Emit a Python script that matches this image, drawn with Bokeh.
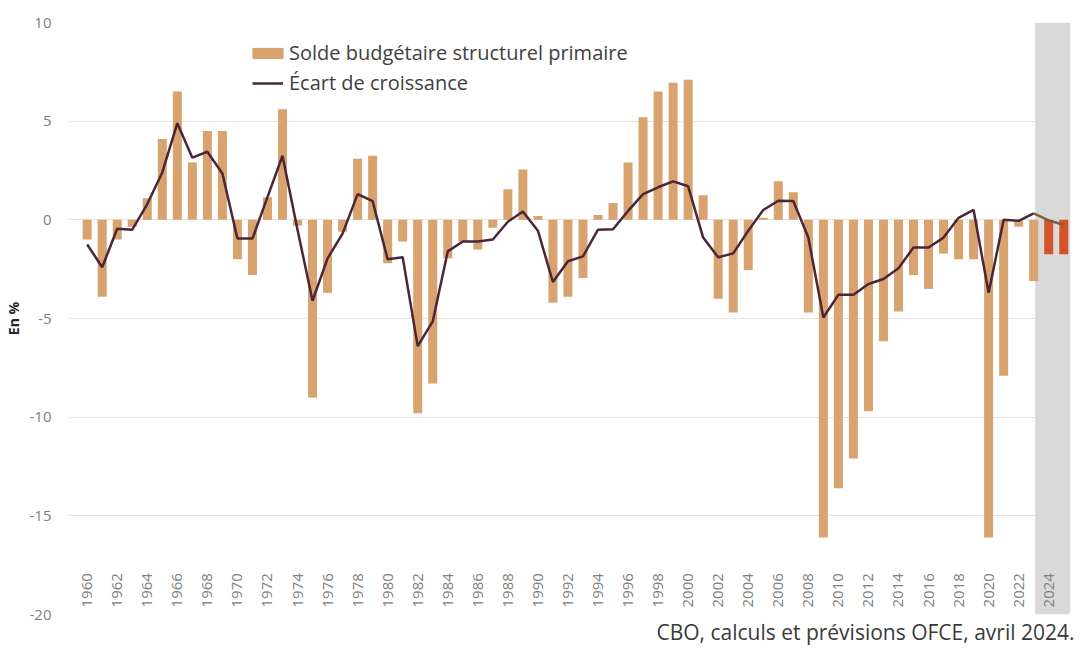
from math import pi
from bokeh.plotting import figure
from bokeh.models import (ColumnDataSource, Range1d, FixedTicker, LinearAxis, Legend,
                          LegendItem, BoxAnnotation, Title)
from bokeh.embed import file_html
from bokeh.resources import INLINE

years = list(range(1960, 2026))
solde = [-1.0, -3.9, -1.0, -0.35, 1.1, 4.1, 6.5, 2.9, 4.5, 4.5,
         -2.0, -2.8, 1.15, 5.6, -0.3, -9.0, -3.7, -0.6, 3.1, 3.25,
         -2.2, -1.1, -9.8, -8.3, -1.95, -1.1, -1.5, -0.4, 1.55, 2.55,
         0.2, -4.2, -3.9, -2.95, 0.25, 0.85, 2.9, 5.2, 6.5, 6.95,
         7.1, 1.25, -4.0, -4.7, -2.55, 0.1, 1.95, 1.4, -4.7, -16.1,
         -13.6, -12.1, -9.7, -6.15, -4.65, -2.8, -3.5, -1.7, -2.0, -2.0,
         -16.1, -7.9, -0.35, -3.1, -1.75, -1.75]
ecart = [-1.25, -2.4, -0.45, -0.5, 0.8, 2.4, 4.9, 3.15, 3.45, 2.35,
         -0.95, -0.95, 1.15, 3.25, -0.5, -4.1, -1.95, -0.7, 1.3, 0.95,
         -2.0, -1.9, -6.4, -5.15, -1.6, -1.1, -1.1, -1.0, -0.1, 0.42,
         -0.55, -3.15, -2.1, -1.85, -0.5, -0.48, 0.45, 1.3, 1.65, 1.95,
         1.7, -0.9, -1.9, -1.7, -0.55, 0.5, 0.97, 0.95, -0.9, -4.95,
         -3.8, -3.8, -3.25, -3.0, -2.45, -1.4, -1.4, -0.9, 0.1, 0.5,
         -3.7, 0.0, -0.05, 0.33, -0.03, -0.25]
forecast_years = [2024, 2025]
y_ticks = [-20, -15, -10, -5, 0, 5, 10]
y_tick_labels = ["-20", "-15", "-10", "-5", "0", "5", "10"]
x_ticks = list(range(1960, 2025, 2))

BAR = "#D8A36E"
RED = "#D6532A"
LINE = "#4A2638"
FLINE = "#7E5C3E"
FONT = "Open Sans"

hist = [i for i, y in enumerate(years) if y not in forecast_years]
fc = [i for i, y in enumerate(years) if y in forecast_years]
src_hist = ColumnDataSource(dict(x=[years[i] for i in hist], top=[solde[i] for i in hist]))
src_fc = ColumnDataSource(dict(x=[years[i] for i in fc], top=[solde[i] for i in fc]))
n_obs = len(years) - len(forecast_years)
src_line = ColumnDataSource(dict(x=years[:n_obs], y=ecart[:n_obs]))
src_fline = ColumnDataSource(dict(x=years[n_obs - 1:], y=ecart[n_obs - 1:]))

p = figure(width=1077, height=647, output_backend="svg", toolbar_location=None,
           x_range=Range1d(1958.69, 2025.45), y_range=Range1d(-20, 10),
           x_axis_location=None, min_border_left=67, min_border_right=7,
           min_border_top=22, min_border_bottom=33)
p.outline_line_color = None
p.background_fill_color = "white"
p.border_fill_color = "white"

p.add_layout(BoxAnnotation(left=2023.1, fill_color="#D9D9D9", fill_alpha=1.0,
                           line_color=None, level="underlay"))

p.xgrid.visible = False
p.ygrid.ticker = FixedTicker(ticks=y_ticks)
p.ygrid.grid_line_color = "#E3E3E3"
p.ygrid.grid_line_width = 1

bars = p.vbar(x="x", top="top", bottom=0, width=0.6, source=src_hist,
              fill_color=BAR, line_color=None)
p.vbar(x="x", top="top", bottom=0, width=0.6, source=src_fc,
       fill_color=RED, line_color=None)
ln = p.line("x", "y", source=src_line, line_color=LINE, line_width=2.5)
p.line("x", "y", source=src_fline, line_color=FLINE, line_width=2.5)

# y axis
ya = p.yaxis[0]
ya.ticker = FixedTicker(ticks=y_ticks)
ya.major_label_overrides = dict(zip(y_ticks, y_tick_labels))
ya.axis_line_color = None
ya.major_tick_line_color = None
ya.minor_tick_line_color = None
ya.major_label_text_font = FONT
ya.major_label_text_font_size = "15px"
ya.major_label_text_color = "#808080"
ya.major_label_standoff = 10
ya.axis_label = "En %"
ya.axis_label_text_font = FONT
ya.axis_label_text_font_size = "14px"
ya.axis_label_text_font_style = "bold"
ya.axis_label_text_color = "#262626"
ya.axis_label_standoff = 4

# x axis labels inside the frame, above the -20 gridline
xa = LinearAxis(ticker=FixedTicker(ticks=x_ticks), fixed_location=-17.6)
xa.axis_line_color = None
xa.major_tick_line_color = None
xa.minor_tick_line_color = None
xa.major_label_orientation = pi / 2
xa.major_label_standoff = 0
xa.major_label_text_font = FONT
xa.major_label_text_font_size = "15px"
xa.major_label_text_color = "#808080"
p.add_layout(xa, "below")

# legends
leg1 = Legend(items=[LegendItem(label="Solde budgétaire structurel primaire", renderers=[bars])],
              location=(181, 548), glyph_width=39, glyph_height=14, label_standoff=2,
              padding=0, border_line_color=None, background_fill_alpha=0,
              label_text_font=FONT, label_text_font_size="20px", label_text_color="#404040",
              label_height=20)
leg2 = Legend(items=[LegendItem(label="Écart de croissance", renderers=[ln])],
              location=(185, 518), glyph_width=31, glyph_height=14, label_standoff=6,
              padding=0, border_line_color=None, background_fill_alpha=0,
              label_text_font=FONT, label_text_font_size="20px", label_text_color="#404040",
              label_height=20)
p.add_layout(leg1)
p.add_layout(leg2)

src_title = Title(text="CBO, calculs et prévisions OFCE, avril 2024.", align="right",
                  text_font=FONT, text_font_size="21px", text_font_style="normal",
                  text_color="#3A3A3A", standoff=2, offset=-4)
p.add_layout(src_title, "below")

open("out.html", "w").write(file_html(p, INLINE))
